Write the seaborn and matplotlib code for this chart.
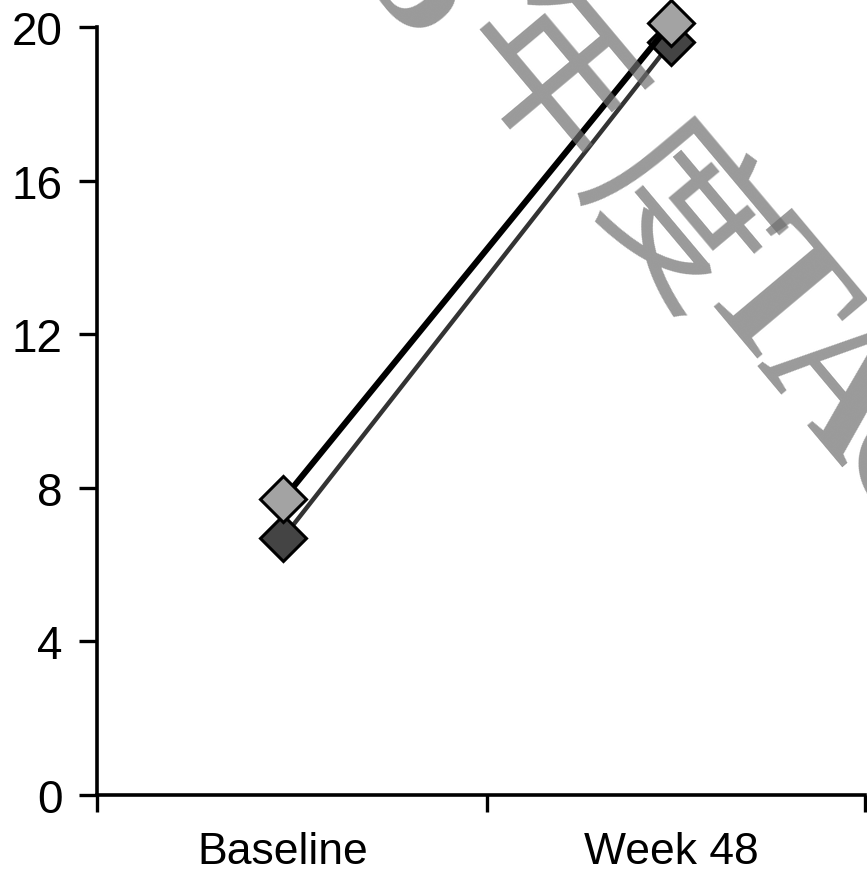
import numpy as np
import pandas as pd
import matplotlib
matplotlib.use("Agg")
import matplotlib.pyplot as plt
import seaborn as sns

# Visits and mean values for the two groups
categories = ["Baseline", "Week 48"]
dark_values = [6.7, 19.6]
light_values = [7.7, 20.1]
y_ticks = [0, 4, 8, 12, 16, 20]

sns.set_theme(style="ticks")
plt.rcParams["font.family"] = ["Liberation Sans", "DejaVu Sans"]

W, H = 867, 870
fig = plt.figure(figsize=(W / 100, H / 100), dpi=100)
ax = fig.add_axes([97 / W, 1 - 796 / H, (865 - 97) / W, (796 - 28) / H])

df = pd.DataFrame({
    "visit": np.arange(len(categories)),
    "dark": dark_values,
    "light": light_values,
})

sns.lineplot(data=df, x="visit", y="dark", ax=ax, color="#333333",
             linewidth=3.2, marker="D", markersize=23,
             markerfacecolor="#444444", markeredgecolor="black",
             markeredgewidth=2.2, zorder=3, clip_on=False)
sns.lineplot(data=df, x="visit", y="light", ax=ax, color="black",
             linewidth=4.4, marker="D", markersize=23,
             markerfacecolor="#a3a3a3", markeredgecolor="black",
             markeredgewidth=2.2, zorder=4, clip_on=False)

ax.set_xlim(-0.48, 1.5)
ax.set_ylim(0, 20)
ax.set_xticks(range(len(categories)))
ax.set_xticklabels(categories)
ax.set_xticks([-0.48, 0.525, 1.5], minor=True)
ax.set_yticks(y_ticks)
ax.set_yticklabels([str(v) for v in y_ticks])
ax.set_xlabel("")
ax.set_ylabel("")

ax.tick_params(axis="x", which="major", length=0, pad=26, labelsize=32,
               labelcolor="black")
ax.tick_params(axis="x", which="minor", length=12, width=2.4,
               direction="out", color="black")
ax.tick_params(axis="y", length=13, width=2.4, pad=12, labelsize=33,
               color="black", labelcolor="black")

sns.despine(ax=ax)
for side in ("left", "bottom"):
    ax.spines[side].set_linewidth(2.6)
    ax.spines[side].set_color("black")

# Diagonal watermark across the upper right
wm_color = "#6f6f6f"
wm_chars = [
    ("5", 420, -12, "Liberation Serif", 130, "bold"),
    ("年", 545, 82, "Noto Sans CJK SC", 128, "normal"),
    ("度", 672, 222, "Noto Sans CJK SC", 128, "normal"),
    ("T", 768, 305, "Liberation Serif", 135, "bold"),
    ("A", 832, 388, "Liberation Serif", 135, "bold"),
    ("C", 905, 478, "Liberation Serif", 135, "bold"),
]
for ch, px, py, fam, size, weight in wm_chars:
    fig.text(px / W, 1 - py / H, ch, rotation=-50, rotation_mode="anchor",
             ha="center", va="center", fontsize=size, family=fam,
             fontweight=weight, color=wm_color, alpha=0.7, zorder=10)

fig.savefig("out.png", dpi=100)
